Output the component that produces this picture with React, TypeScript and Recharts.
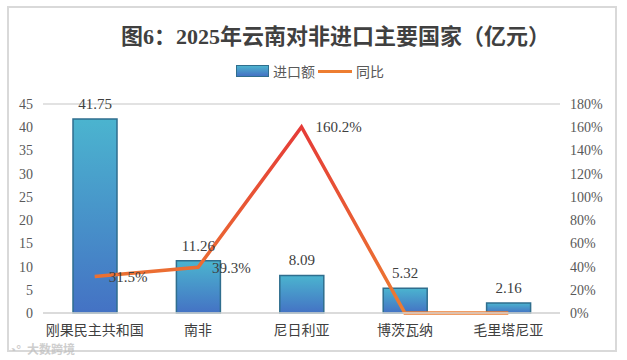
import { Bar, CartesianGrid, ComposedChart, LabelList, Line, XAxis, YAxis } from "recharts";

const countries = ["刚果民主共和国", "南非", "尼日利亚", "博茨瓦纳", "毛里塔尼亚"];
const importValues = [41.75, 11.26, 8.09, 5.32, 2.16];
const yoyValues = [31.5, 39.3, 160.2, 0, 0];
const leftTicks = [0, 5, 10, 15, 20, 25, 30, 35, 40, 45];
const rightTicks = [0, 20, 40, 60, 80, 100, 120, 140, 160, 180];

const serif = '"Liberation Serif", "Times New Roman", serif';
const cjk = '"Noto Sans CJK SC", "Noto Sans", sans-serif';
const titleFont = '"Liberation Serif", "Noto Sans CJK SC", serif';

const data = countries.map((name, i) => ({
  name,
  imports: importValues[i],
  yoy: yoyValues[i],
}));

const numTick = { fill: "#595959", fontSize: 14, fontFamily: serif };

export default function App() {
  return (
    <div style={{ position: "absolute", left: 0, top: 0, width: 627, height: 360, background: "#fff" }}>
      <div
        style={{
          position: "absolute",
          left: 7,
          top: 6,
          width: 606,
          height: 342,
          border: "2px solid #d9d9d9",
        }}
      />
      <div
        style={{
          position: "absolute",
          left: 0,
          width: 627,
          top: 22,
          textAlign: "center",
          paddingLeft: 44,
          boxSizing: "border-box",
          fontFamily: titleFont,
          fontWeight: "bold",
          fontSize: 22,
          color: "#404040",
          lineHeight: "30px",
        }}
      >
        图6：2025年云南对非进口主要国家（亿元）
      </div>
      <div
        style={{
          position: "absolute",
          left: 236,
          top: 61,
          display: "flex",
          alignItems: "center",
          fontFamily: cjk,
          fontSize: 14,
          color: "#595959",
          lineHeight: "20px",
        }}
      >
        <span
          style={{
            display: "inline-block",
            width: 31,
            height: 10,
            background: "linear-gradient(#4db3ce, #4472c4)",
            border: "1px solid #2f6e8e",
            marginRight: 4,
          }}
        />
        <span style={{ marginRight: 3 }}>进口额</span>
        <span
          style={{ display: "inline-block", width: 34, height: 3, background: "#ed7d31", marginRight: 4 }}
        />
        <span>同比</span>
      </div>
      <ComposedChart
        width={627}
        height={360}
        data={data}
        margin={{ top: 104, right: 0, bottom: 0, left: 0 }}
        style={{ position: "absolute", left: 0, top: 0 }}
      >
        <defs>
          <linearGradient id="barFill" x1="0" y1="0" x2="0" y2="1">
            <stop offset="0%" stopColor="#4bb4cf" />
            <stop offset="100%" stopColor="#4472c4" />
          </linearGradient>
          <linearGradient id="lineStroke" x1="0" y1="0" x2="0" y2="1">
            <stop offset="0%" stopColor="#e53b37" />
            <stop offset="100%" stopColor="#ed7d31" />
          </linearGradient>
        </defs>
        <CartesianGrid horizontal vertical={false} stroke="#d9d9d9" strokeWidth={1.5} />
        <XAxis
          dataKey="name"
          height={47}
          axisLine={{ stroke: "#d9d9d9", strokeWidth: 1.5 }}
          tickLine={false}
          tickSize={0}
          tickMargin={12}
          tick={{ fill: "#404040", fontSize: 14, fontFamily: cjk }}
          interval={0}
        />
        <YAxis
          yAxisId="l"
          width={43}
          domain={[0, 45]}
          ticks={leftTicks}
          interval={0}
          axisLine={false}
          tickLine={false}
          tickSize={0}
          tickMargin={10}
          tick={numTick}
        />
        <YAxis
          yAxisId="r"
          orientation="right"
          width={67}
          domain={[0, 180]}
          ticks={rightTicks}
          interval={0}
          tickFormatter={(v: number) => `${v}%`}
          axisLine={false}
          tickLine={false}
          tickSize={0}
          tickMargin={10}
          tick={numTick}
        />
        <Bar
          yAxisId="l"
          dataKey="imports"
          fill="url(#barFill)"
          stroke="#2f6e8e"
          strokeWidth={1.5}
          barSize={44}
          isAnimationActive={false}
        >
          <LabelList
            dataKey="imports"
            position="top"
            offset={10}
            fill="#404040"
            fontSize={15}
            fontFamily={serif}
          />
        </Bar>
        <Line
          yAxisId="r"
          dataKey="yoy"
          type="linear"
          stroke="url(#lineStroke)"
          strokeWidth={3.5}
          dot={false}
          isAnimationActive={false}
        >
          <LabelList
            dataKey="yoy"
            position="right"
            offset={14}
            fill="#404040"
            fontSize={15}
            fontFamily={serif}
            formatter={(v: number) => (v ? `${v}%` : "")}
          />
        </Line>
      </ComposedChart>
      <div
        style={{
          position: "absolute",
          left: 9,
          top: 342,
          fontFamily: cjk,
          fontSize: 12,
          fontWeight: "bold",
          color: "rgba(190,190,190,0.75)",
          lineHeight: "14px",
          whiteSpace: "nowrap",
        }}
      >
        <span style={{ marginRight: 6 }}>◔°</span>大数跨境
      </div>
    </div>
  );
}
